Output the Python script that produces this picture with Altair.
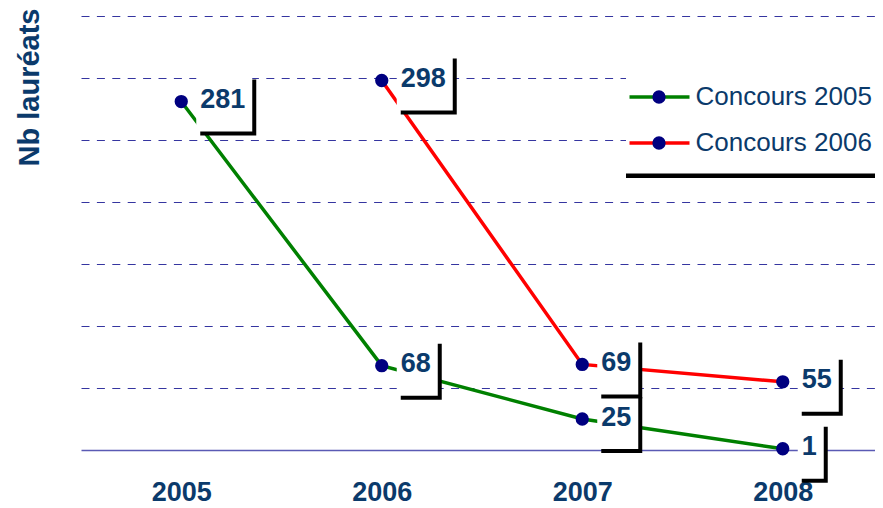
import altair as alt
import pandas as pd

years = [2005, 2006, 2007, 2008]
series_names = ["Concours 2005", "Concours 2006"]
concours_2005 = [281, 68, 25, 1]
concours_2006 = [None, 298, 69, 55]
y_ticks = [50, 100, 150, 200, 250, 300, 350]
line_colors = ["#008000", "#ff0000"]

rows = []
for name, vals in zip(series_names, [concours_2005, concours_2006]):
    for yr, v in zip(years, vals):
        if v is not None:
            rows.append({"annee": yr, "serie": name, "laureats": v})
df = pd.DataFrame(rows)

TXT = "#0b3a6b"
FONT = "Liberation Sans"
LEG_FS = 26

x_enc = alt.X(
    "annee:Q",
    scale=alt.Scale(domain=[2004.5, 2008.5], nice=False, zero=False),
    axis=alt.Axis(
        title=None, values=years, format="d", labelAngle=0, ticks=False, tickSize=0,
        labelPadding=29, labelFontSize=27, labelFontWeight="bold", labelColor=TXT,
        labelFont=FONT, domainColor="#5a5ab4", domainWidth=1.5, grid=False,
    ),
)
y_enc = alt.Y(
    "laureats:Q",
    scale=alt.Scale(domain=[0, 350], nice=False, zero=True),
    axis=alt.Axis(
        title="Nb lauréats", values=y_ticks, labels=False, ticks=False, domain=False,
        grid=True, gridColor="#3535a0", gridDash=[8, 7.4], gridWidth=1,
        titleFontSize=29, titleFontWeight="bold", titleColor=TXT, titleFont=FONT,
        titleAngle=270, titleAlign="right", titleBaseline="alphabetic",
        titleX=-43, titleY=-8,
    ),
)

base = alt.Chart(df)

lines = base.mark_line(strokeWidth=3.5).encode(
    x=x_enc,
    y=y_enc,
    color=alt.Color(
        "serie:N",
        scale=alt.Scale(domain=series_names, range=line_colors),
        legend=alt.Legend(
            title=None, orient="none", legendX=545, legendY=52,
            fillColor="white", padding=16, symbolType="M-3,0H3", symbolSize=400,
            symbolStrokeWidth=3.5, symbolOffset=4.5, labelOffset=23, labelLimit=400,
            labelFontSize=LEG_FS, labelColor=TXT, labelFont=FONT, rowPadding=20,
        ),
    ),
)

points = base.transform_calculate(serie_pt="datum.serie").mark_point(
    filled=True, shape="circle", size=177, opacity=1, color="#000080"
).encode(
    x=x_enc,
    y=y_enc,
    shape=alt.Shape(
        "serie_pt:N",
        scale=alt.Scale(range=["circle", "circle"]),
        legend=alt.Legend(
            title=None, orient="none", legendX=545, legendY=52,
            padding=16, symbolType="circle", symbolSize=177, symbolOffset=4,
            symbolFillColor="#000080", symbolStrokeWidth=0, symbolOpacity=1,
            labelFontSize=LEG_FS, labelFont=FONT, labelExpr="''", rowPadding=20,
        ),
    ),
)


def label_layers(name):
    sub = base.transform_filter(alt.datum.serie == name)
    shadow = sub.mark_rect(
        color="black", opacity=1,
        xOffset=19, x2Offset={"expr": "30 + 15*length(toString(datum.laureats))"},
        yOffset=-22, y2Offset=34,
    ).encode(x=x_enc, x2="annee:Q", y=y_enc, y2="laureats:Q")
    box = sub.mark_rect(
        color="white", opacity=1,
        xOffset=15, x2Offset={"expr": "26 + 15*length(toString(datum.laureats))"},
        yOffset=-26, y2Offset=30,
    ).encode(x=x_enc, x2="annee:Q", y=y_enc, y2="laureats:Q")
    txt = sub.mark_text(
        align="left", baseline="middle", dx=19, dy=-1.5, fontSize=27,
        fontWeight="bold", color=TXT, font=FONT,
    ).encode(x=x_enc, y=y_enc, text="laureats:Q")
    return [shadow, box, txt]


legend_shadow = alt.Chart(pd.DataFrame({"k": [0]})).mark_rule(
    color="black", strokeWidth=4.5
).encode(x=alt.value(545), x2=alt.value(802), y=alt.value(159.75))

layers = [lines, points]
for n in series_names:
    layers += label_layers(n)
layers.append(legend_shadow)

chart = alt.layer(*layers).properties(
    width=802,
    height=434,
    autosize=alt.AutoSizeParams(type="none"),
    padding={"left": 73, "top": 8, "right": -8, "bottom": 58},
    background="white",
).configure(font=FONT, view=alt.ViewConfig(stroke=None))

chart.save("out.html", embed_options={"renderer": "svg", "actions": False})
